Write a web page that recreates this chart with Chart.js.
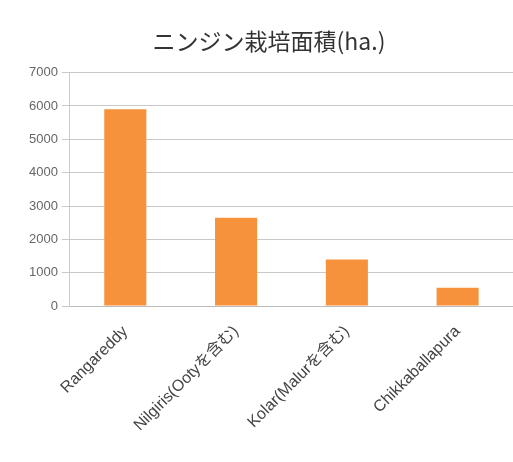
<!DOCTYPE html>
<html lang="ja">
<head>
<meta charset="UTF-8">
<title>ニンジン栽培面積</title>
<script src="https://cdn.jsdelivr.net/npm/chart.js"></script>
<style>
  html, body { margin: 0; padding: 0; background: #fff; }
  #wrap { width: 513px; height: 462px; }
</style>
</head>
<body>
<div id="wrap"><canvas id="chart"></canvas></div>
<script>
const chartTitle = 'ニンジン栽培面積(ha.)';
const districts = ['Rangareddy', 'Nilgiris(Ootyを含む)', 'Kolar(Malurを含む)', 'Chikkaballapura'];
const areaHa = [5900, 2650, 1400, 550];
const yMax = 7000;
const yStep = 1000;

const fontFamily = "'Liberation Sans', 'Noto Sans CJK JP', sans-serif";

new Chart(document.getElementById('chart'), {
  type: 'bar',
  data: {
    labels: districts,
    datasets: [{
      label: chartTitle,
      data: areaHa,
      backgroundColor: '#f7923c',
      borderWidth: 0,
      barPercentage: 0.38,
      categoryPercentage: 1.0
    }]
  },
  options: {
    responsive: true,
    maintainAspectRatio: false,
    animation: false,
    layout: { padding: { top: 27, left: 25, right: 0, bottom: 11 } },
    plugins: {
      legend: { display: false },
      tooltip: { enabled: false },
      title: {
        display: true,
        text: chartTitle,
        color: '#333',
        font: { family: "'Noto Sans CJK JP', sans-serif", size: 23, weight: 'normal' },
        padding: { top: 0, bottom: 18 }
      }
    },
    scales: {
      x: {
        grid: { display: false, drawTicks: false },
        border: { display: true, color: '#bbb' },
        ticks: {
          color: '#444',
          font: { family: fontFamily, size: 16 },
          maxRotation: 45,
          minRotation: 45,
          padding: 16
        }
      },
      y: {
        min: 0,
        max: yMax,
        ticks: {
          stepSize: yStep,
          color: '#666',
          font: { family: fontFamily, size: 13 },
          padding: 4,
          callback: v => String(v)
        },
        grid: { color: '#c8c8c8', tickLength: 8 },
        border: { display: true, color: '#ccc' }
      }
    }
  }
});
</script>
</body>
</html>
